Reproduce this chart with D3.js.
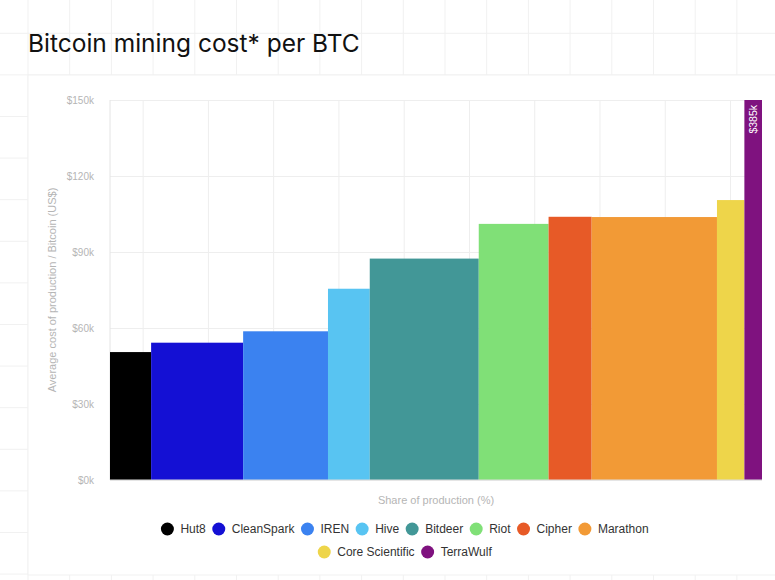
<!DOCTYPE html>
<html lang="en">
<head>
<meta charset="UTF-8">
<title>Bitcoin mining cost per BTC</title>
<script src="https://d3js.org/d3.v7.min.js"></script>
<style>
  body { margin: 0; background: #fff; }
  svg text { font-family: "Liberation Sans", Arial, sans-serif; }
</style>
</head>
<body>
<div id="chart"></div>
<script>
var companies = ["Hut8", "CleanSpark", "IREN", "Hive", "Bitdeer", "Riot", "Cipher", "Marathon", "Core Scientific", "TerraWulf"];
// share of production (%) and average cost per BTC (US$ thousands)
var shares = [6.3, 14.1, 13.0, 6.4, 16.7, 10.7, 6.6, 19.2, 4.2, 2.7];
var costs = [50.5, 54.2, 58.7, 75.5, 87.4, 101.1, 103.9, 103.8, 110.5, 385];
var colors = ["#000000", "#1410d4", "#3b82f0", "#58c4f2", "#429797", "#80e077", "#e75a27", "#f29a36", "#eed54a", "#7f127f"];
var yTicks = [0, 30, 60, 90, 120, 150];
var xGrid = [5, 15, 25, 35, 45, 55, 65, 75, 85, 95];

var W = 775, H = 580;
var margin = {top: 100, right: 13, bottom: 100, left: 110},
    width = W - margin.left - margin.right,
    height = H - margin.top - margin.bottom;

var svg = d3.select("#chart").append("svg")
    .attr("width", W)
    .attr("height", H);

// faint page grid behind everything
var bg = svg.append("g").attr("stroke", "#f1f1f1").attr("stroke-width", 1);
d3.range(28, W, 41.7).forEach(function(x) {
  bg.append("line").attr("x1", x).attr("x2", x).attr("y1", 0).attr("y2", H);
});
d3.range(33.3, H, 41.6).forEach(function(y) {
  bg.append("line").attr("x1", 0).attr("x2", W).attr("y1", y).attr("y2", y);
});

// white card
svg.append("rect")
    .attr("x", 28).attr("y", 75)
    .attr("width", 760).attr("height", 500)
    .attr("fill", "#fff")
    .attr("stroke", "#f1f1f1");

svg.append("text")
    .attr("x", 28).attr("y", 52)
    .style("font-family", "Inter, 'Noto Sans', sans-serif")
    .attr("font-size", 24.5)
    .attr("fill", "#111")
    .text("Bitcoin mining cost* per BTC");

var g = svg.append("g")
    .attr("transform", "translate(" + margin.left + "," + margin.top + ")");

var x = d3.scaleLinear()
    .domain([0, d3.sum(shares)])
    .range([0, width]);

var y = d3.scaleLinear()
    .domain([0, 150])
    .range([height, 0])
    .clamp(true);

// grid lines
g.append("g")
    .attr("class", "grid")
    .call(d3.axisLeft(y).tickValues(yTicks).tickSize(-width).tickFormat(""))
    .call(function(s) { s.select(".domain").remove(); s.selectAll("line").attr("stroke", "#eeeeee"); });

g.append("g")
    .attr("class", "grid")
    .call(d3.axisTop(x).tickValues(xGrid).tickSize(-height).tickFormat(""))
    .call(function(s) { s.select(".domain").remove(); s.selectAll("line").attr("stroke", "#eeeeee"); });

g.append("line")
    .attr("x1", 0).attr("x2", 0).attr("y1", 0).attr("y2", height)
    .attr("stroke", "#e4e4e4");

// y axis labels
g.append("g")
    .call(d3.axisLeft(y).tickValues(yTicks).tickSize(0).tickPadding(16)
      .tickFormat(function(d) { return "$" + d + "k"; }))
    .call(function(s) {
      s.select(".domain").remove();
      s.selectAll("text").attr("fill", "#b5b5b5").attr("font-size", 10)
        .style("font-family", "'Liberation Sans', Arial, sans-serif");
    });

// bars
var starts = [];
shares.reduce(function(acc, v, i) { starts[i] = acc; return acc + v; }, 0);

g.selectAll(".bar")
    .data(companies)
    .enter().append("rect")
    .attr("class", "bar")
    .attr("x", function(d, i) { return x(starts[i]); })
    .attr("width", function(d, i) { return x(starts[i] + shares[i]) - x(starts[i]); })
    .attr("y", function(d, i) { return y(costs[i]); })
    .attr("height", function(d, i) { return height - y(costs[i]); })
    .attr("fill", function(d, i) { return colors[i]; });

// label for the bar that goes off the scale
var last = companies.length - 1;
g.append("text")
    .attr("transform", "translate(" + (x(starts[last] + shares[last] / 2) + 3.5) + "," + (y(150) + 5) + ") rotate(-90)")
    .attr("text-anchor", "end")
    .attr("fill", "#fff")
    .attr("font-size", 10.5)
    .text("$" + costs[last] + "k");

g.append("line")
    .attr("x1", 0).attr("x2", width).attr("y1", height).attr("y2", height)
    .attr("stroke", "#dcdcdc");

// axis titles
svg.append("text")
    .attr("transform", "translate(56," + (margin.top + height / 2) + ") rotate(-90)")
    .attr("text-anchor", "middle")
    .attr("fill", "#b5b5b5")
    .attr("font-size", 11)
    .text("Average cost of production / Bitcoin (US$)");

svg.append("text")
    .attr("x", margin.left + width / 2)
    .attr("y", 504)
    .attr("text-anchor", "middle")
    .attr("fill", "#b5b5b5")
    .attr("font-size", 11)
    .text("Share of production (%)");

// legend, two centred rows
var rows = [companies.slice(0, 8), companies.slice(8)];
var legendCx = 405, gap = 7;
rows.forEach(function(row, r) {
  var lg = svg.append("g");
  var pos = 0;
  row.forEach(function(name) {
    var i = companies.indexOf(name);
    var item = lg.append("g").attr("transform", "translate(" + pos + ",0)");
    item.append("circle").attr("cx", 6).attr("cy", 0).attr("r", 6.5).attr("fill", colors[i]);
    var t = item.append("text")
        .attr("x", 19).attr("y", 0).attr("dy", "0.35em")
        .attr("font-size", 12).attr("fill", "#333")
        .text(name);
    pos += 19 + t.node().getComputedTextLength() + gap;
  });
  lg.attr("transform", "translate(" + (legendCx - (pos - gap) / 2) + "," + (529 + r * 23) + ")");
});
</script>
</body>
</html>
